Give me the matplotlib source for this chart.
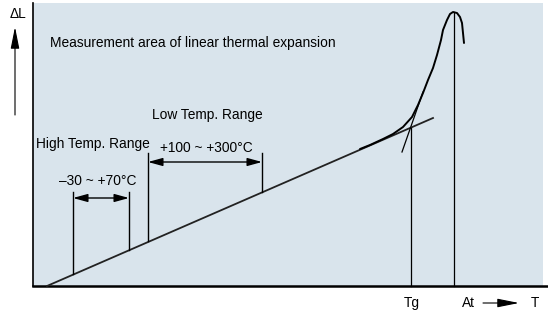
import matplotlib
matplotlib.use('Agg')
import matplotlib.pyplot as plt

plt.rcParams['font.family'] = ['Liberation Sans', 'DejaVu Sans']

# schematic drawn in picture coordinates (x right, y down)
base_x = [47, 433]
base_y = [286, 118]

curve_x = [360, 370, 383, 393, 403, 412, 418, 423, 428, 433, 437, 441, 443,
           447, 450, 453, 457, 460, 462, 463, 464]
curve_y = [149, 145, 139, 134, 127, 117, 105, 93, 80, 68, 55, 40, 30,
           20, 14, 12, 13, 17, 23, 33, 43]

tangent_x = [402, 423]
tangent_y = [152, 92]

tg_x, tg_top = 411, 128
at_x, at_top = 454, 12

# measurement ranges: (left x, right x, top y, left bottom, right bottom, arrow y)
high_range = [73, 129, 192, 274, 250, 198]
low_range = [148, 262, 153, 241, 192, 162]

bg = '#d9e4ec'

fig = plt.figure(figsize=(5.48, 3.11), dpi=100)
ax = fig.add_axes([0, 0, 1, 1])
ax.set_xlim(0, 548)
ax.set_ylim(311, 0)
ax.axis('off')

ax.add_patch(plt.Rectangle((33, 3), 510, 283, facecolor=bg, edgecolor='none', zorder=0))
ax.plot([33, 33], [3, 286], color='black', lw=1.2)
ax.plot([33, 548], [286, 286], color='black', lw=1.8)

ax.plot(base_x, base_y, color='#222222', lw=1.3)
ax.plot(curve_x, curve_y, color='black', lw=1.4, solid_capstyle='round',
        solid_joinstyle='round')
ax.plot(tangent_x, tangent_y, color='black', lw=0.9)
ax.plot([tg_x, tg_x], [tg_top, 286], color='black', lw=0.9)
ax.plot([at_x, at_x], [at_top, 286], color='black', lw=0.9)

for r in (high_range, low_range):
    x0, x1, top, b0, b1, ay = r
    ax.plot([x0, x0], [top, b0], color='black', lw=1.0)
    ax.plot([x1, x1], [top, b1], color='black', lw=1.0)
    ax.annotate('', xy=(x0, ay), xytext=(x1, ay),
                arrowprops=dict(arrowstyle='<|-|>,head_length=0.8,head_width=0.22',
                                color='black', lw=1.0,
                                mutation_scale=11, shrinkA=0, shrinkB=0))

# axis arrows
ax.annotate('', xy=(15, 27), xytext=(15, 115),
            arrowprops=dict(arrowstyle='-|>,head_length=1.1,head_width=0.22',
                            color='black', lw=0.8,
                            mutation_scale=12, shrinkA=0, shrinkB=0))
ax.annotate('', xy=(519, 303), xytext=(483, 303),
            arrowprops=dict(arrowstyle='-|>,head_length=1.1,head_width=0.22',
                            color='black', lw=0.8,
                            mutation_scale=12, shrinkA=0, shrinkB=0))

fs = 9.9
ax.text(18, 14, 'ΔL', fontsize=fs, ha='center', va='center')
ax.text(50, 43, 'Measurement area of linear thermal expansion', fontsize=fs, va='center')
ax.text(152, 115, 'Low Temp. Range', fontsize=fs, va='center')
ax.text(36, 144, 'High Temp. Range', fontsize=fs, va='center')
ax.text(206, 148, '+100 ~ +300°C', fontsize=fs, ha='center', va='center')
ax.text(98, 181, '\u201330 ~ +70°C', fontsize=fs, ha='center', va='center')
ax.text(412, 303, 'Tg', fontsize=fs, ha='center', va='center')
ax.text(468, 303, 'At', fontsize=fs, ha='center', va='center')
ax.text(535, 303, 'T', fontsize=fs, ha='center', va='center')

plt.savefig('out.png', dpi=100)
